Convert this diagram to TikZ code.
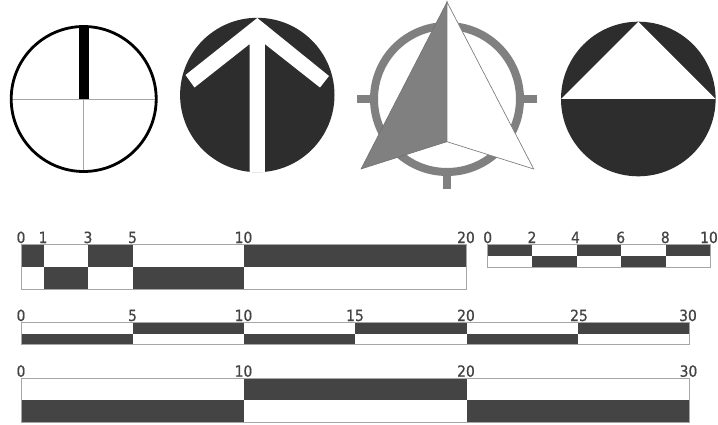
\documentclass[tikz,border=0pt]{standalone}
\usepackage{fontspec}
\newfontfamily\scalefont[FakeBold=0.7]{DejaVu Sans Condensed}
\definecolor{bardark}{HTML}{444444}
\definecolor{discdark}{HTML}{2D2D2D}
\definecolor{edgegray}{HTML}{A6A6A6}
\definecolor{ringgray}{HTML}{808080}
\definecolor{labelgray}{HTML}{444444}
\tikzset{
  darkcell/.style={fill=bardark,draw=none},
  barframe/.style={draw=edgegray,line width=0.9pt},
  scalelabel/.style={anchor=base,inner sep=0pt,text=labelgray,font=\scalefont\fontsize{15.4}{15}\selectfont},
  disc/.style={fill=discdark,draw=none},
  ringline/.style={draw=ringgray,line width=8pt},
  thinaxis/.style={draw=edgegray,line width=0.9pt}
}
% #1 x-start of cell, #2 x-end of cell, #3 y-top, #4 y-bottom
\newcommand{\cellbox}[4]{\fill[darkcell] (#1,#3) rectangle (#2,#4);}
\begin{document}
\begin{tikzpicture}[x=1pt,y=-1pt]
\useasboundingbox (0,0) rectangle (718,425);
\fill[white] (0,0) rectangle (718,425);

% Symbol 1
\draw[thinaxis] (10.5,99) -- (157,99);
\draw[thinaxis] (83.7,99) -- (83.7,172);
\fill[black] (78.7,26) rectangle (88.9,99);
\draw[black,line width=2.8pt] (83.7,99) circle[radius=72.5];

% Symbol 2
\fill[disc] (257.3,95) circle[radius=77.2];
\fill[white] (257.3,18) -- (329,76) -- (320,87.5) -- (264.8,44) -- (264.8,172.2)
  -- (249.7,172.2) -- (249.7,44) -- (194.5,87.5) -- (185.5,75) -- cycle;

% Symbol 3
\draw[ringline] (447,99) circle[radius=73];
\draw[draw=ringgray,line width=8pt] (357.3,99) -- (372,99);
\draw[draw=ringgray,line width=8pt] (522,99) -- (536.7,99);
\draw[draw=ringgray,line width=8pt] (447,174) -- (447,188.7);
\fill[ringgray,draw=ringgray!85!black,line width=0.5pt] (447,2) -- (361,169) -- (447,141.7) -- cycle;
\filldraw[fill=white,draw=ringgray,line width=0.7pt] (447,2) -- (533.7,169) -- (447,141.7) -- cycle;

% Symbol 4
\fill[disc] (638.3,99) circle[radius=77.3];
\fill[white] (638.3,21.7) -- (715.6,99) -- (561,99) -- cycle;

% Bar 1
\fill[white] (21,244.3) rectangle (466.5,289.3);
\cellbox{21}{43.5}{244.3}{267}
\cellbox{88}{132.7}{244.3}{267}
\cellbox{244}{466.5}{244.3}{267}
\cellbox{43.5}{88}{267}{289.3}
\cellbox{132.7}{244}{267}{289.3}
\draw[barframe] (21,244.3) rectangle (466.5,289.3);
\node[scalelabel] (a0) at (21,243) {0};
\node[scalelabel] (a1) at (43,243) {1};
\node[scalelabel] (a3) at (88,243) {3};
\node[scalelabel] (a5) at (132.5,243) {5};
\node[scalelabel] (a10) at (243.5,243) {10};
\node[scalelabel] (a20) at (466,243) {20};

% Bar 2
\cellbox{487.3}{532}{244.3}{255.7}
\cellbox{576.5}{621}{244.3}{255.7}
\cellbox{665.5}{710.3}{244.3}{255.7}
\cellbox{532}{576.5}{255.7}{267}
\cellbox{621}{665.5}{255.7}{267}
\draw[barframe] (487.3,244.3) rectangle (710.3,267);
\node[scalelabel] (b0) at (487.7,243) {0};
\node[scalelabel] (b2) at (532,243) {2};
\node[scalelabel] (b4) at (575.5,243) {4};
\node[scalelabel] (b6) at (620.7,243) {6};
\node[scalelabel] (b8) at (665.3,243) {8};
\node[scalelabel] (b10) at (709,243) {10};

% Bar 3
\cellbox{132.7}{244}{322.3}{333.7}
\cellbox{355.2}{466.5}{322.3}{333.7}
\cellbox{577.7}{689}{322.3}{333.7}
\cellbox{21}{132.7}{333.7}{344.7}
\cellbox{244}{355.2}{333.7}{344.7}
\cellbox{466.5}{577.7}{333.7}{344.7}
\draw[barframe] (21,322.3) rectangle (689,344.7);
\node[scalelabel] (c0) at (21,321) {0};
\node[scalelabel] (c5) at (132.5,321) {5};
\node[scalelabel] (c10) at (243.5,321) {10};
\node[scalelabel] (c15) at (355,321) {15};
\node[scalelabel] (c20) at (466,321) {20};
\node[scalelabel] (c25) at (579,321) {25};
\node[scalelabel] (c30) at (688,321) {30};

% Bar 4
\cellbox{244}{466.5}{378}{400.3}
\cellbox{21}{244}{400.3}{422.7}
\cellbox{466.5}{689}{400.3}{422.7}
\draw[barframe] (21,378) rectangle (689,422.7);
\node[scalelabel] (d0) at (21,376.7) {0};
\node[scalelabel] (d10) at (243.5,376.7) {10};
\node[scalelabel] (d20) at (466,376.7) {20};
\node[scalelabel] (d30) at (688.5,376.7) {30};
\end{tikzpicture}
\end{document}
